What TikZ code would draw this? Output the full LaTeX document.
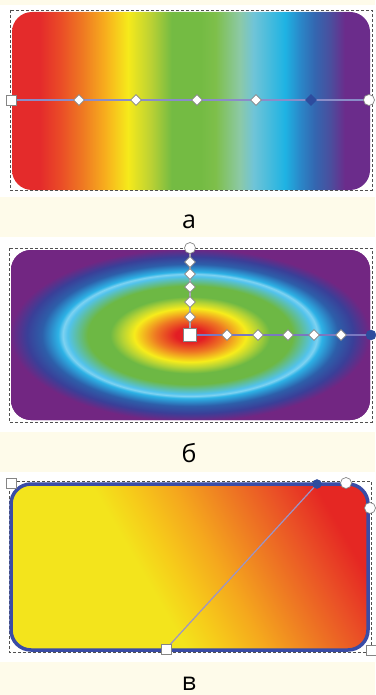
\documentclass[tikz,border=0pt]{standalone}
\usepackage{fontspec}
\setmainfont{Open Sans}
\usetikzlibrary{shapes.geometric}

\definecolor{cream}{HTML}{FEFBEA}
\definecolor{frameGray}{HTML}{505050}
\definecolor{handleGray}{HTML}{858585}
\definecolor{lineA}{HTML}{8A8CC8}
\definecolor{lineBv}{HTML}{A8A8B8}
\definecolor{lineBh}{HTML}{7A78C0}
\definecolor{lineC}{HTML}{9C94C8}
\definecolor{handleBlue}{HTML}{2D4C9E}
\definecolor{borderBlue}{HTML}{3A4CA6}

\definecolor{aRed}{HTML}{E42B2B}
\definecolor{aRedOr}{HTML}{EA4B27}
\definecolor{aOrange}{HTML}{EF7A22}
\definecolor{aAmber}{HTML}{F7AE1D}
\definecolor{aYellow}{HTML}{F6EA1B}
\definecolor{aYelGreen}{HTML}{BDD233}
\definecolor{aGreen}{HTML}{74BB43}
\definecolor{aGreenB}{HTML}{7EBF4A}
\definecolor{aGreenBlue}{HTML}{8CC9A6}
\definecolor{aLightBlue}{HTML}{70C4D7}
\definecolor{aCyan}{HTML}{1EB3E3}
\definecolor{aBlueA}{HTML}{2A88C9}
\definecolor{aBlueB}{HTML}{3466B0}
\definecolor{aSlate}{HTML}{4A4F9E}
\definecolor{aPurple}{HTML}{6B2C8B}

\definecolor{bRed}{HTML}{E31E24}
\definecolor{bOrange}{HTML}{EE7623}
\definecolor{bYellow}{HTML}{F7EC1B}
\definecolor{bYelGreen}{HTML}{B5D335}
\definecolor{bGreen}{HTML}{6DB844}
\definecolor{bCyanL}{HTML}{52C3EC}
\definecolor{bCyanW}{HTML}{7ED2F1}
\definecolor{bCyan}{HTML}{2DB2E6}
\definecolor{bBlue}{HTML}{2D5FAA}
\definecolor{bBlueDark}{HTML}{3A3F98}
\definecolor{bPurple}{HTML}{722682}

\definecolor{cYellow}{HTML}{F3E41C}
\definecolor{cYelOr}{HTML}{F6CC1A}
\definecolor{cAmber}{HTML}{F5A81D}
\definecolor{cOrange}{HTML}{EF7F22}
\definecolor{cOrRed}{HTML}{EA5126}
\definecolor{cRed}{HTML}{E52723}

\pgfdeclarehorizontalshading{rainbowA}{100bp}{%
  color(0bp)=(aRed); color(25bp)=(aRed); color(28.9bp)=(aRed);
  color(31.7bp)=(aRedOr); color(34.9bp)=(aOrange); color(38bp)=(aAmber);
  color(41.2bp)=(aYellow); color(44.3bp)=(aYelGreen); color(47.3bp)=(aGreen);
  color(51.3bp)=(aGreen); color(53.4bp)=(aGreenB); color(56.8bp)=(aGreenBlue);
  color(58.7bp)=(aLightBlue); color(63.1bp)=(aCyan); color(65.2bp)=(aBlueA);
  color(67.3bp)=(aBlueB); color(69.4bp)=(aSlate); color(71.5bp)=(aPurple);
  color(100bp)=(aPurple)}

\pgfdeclareradialshading{ringsB}{\pgfpointorigin}{%
  color(0bp)=(bRed); color(1.8bp)=(bRed); color(4.3bp)=(bOrange);
  color(7bp)=(bYellow); color(8.5bp)=(bYelGreen); color(10bp)=(bGreen);
  color(12.8bp)=(bGreen); color(15.3bp)=(bCyanL); color(15.9bp)=(bCyanW);
  color(16.5bp)=(bCyan); color(18.5bp)=(bBlue); color(20.4bp)=(bBlueDark);
  color(22.5bp)=(bPurple); color(50bp)=(bPurple)}

\pgfdeclarehorizontalshading{warmC}{100bp}{%
  color(0bp)=(cYellow); color(44.4bp)=(cYellow); color(48.1bp)=(cYelOr);
  color(53.1bp)=(cAmber); color(58.1bp)=(cOrange); color(63.75bp)=(cOrRed);
  color(68.75bp)=(cRed); color(100bp)=(cRed)}

\begin{document}
\begin{tikzpicture}[x=1bp,y=-1bp,
  frame/.style={draw=frameGray, line width=0.8bp, dash pattern=on 3bp off 2bp},
  sqhandle/.style={rectangle, draw=handleGray, fill=white, line width=0.7bp, minimum size=10bp, inner sep=0pt},
  bigsq/.style={sqhandle, minimum size=13bp},
  dmhandle/.style={diamond, draw=handleGray, fill=white, line width=0.7bp, minimum width=11bp, minimum height=11bp, inner sep=0pt},
  dmblue/.style={dmhandle, fill=handleBlue, draw=handleBlue},
  rhandle/.style={circle, draw=handleGray, fill=white, line width=0.7bp, minimum size=11bp, inner sep=0pt},
  bluedot/.style={circle, fill=handleBlue, draw=handleBlue, minimum size=10bp, inner sep=0pt},
  panellabel/.style={font=\fontsize{25bp}{30bp}\selectfont, text=black, anchor=base, inner sep=0pt}
]
\fill[cream] (0,0) rectangle (375,695);
\useasboundingbox (0,0) rectangle (375,695);

% ---------- panel a ----------
\fill[white] (0,5) rectangle (375,197);
\shade[shading=rainbowA, rounded corners=20bp] (12,12) rectangle (370,190);
\draw[frame] (10,10) rectangle (372,190);
\coordinate (aL) at (11,100);
\coordinate (aR) at (369,100);
\draw[lineA, line width=1.4bp] (aL) -- (aR);
\node[sqhandle] (aSq) at (aL) {};
\node[dmhandle] (aD1) at (79,100) {};
\node[dmhandle] (aD2) at (136,100) {};
\node[dmhandle] (aD3) at (197,100) {};
\node[dmhandle] (aD4) at (256,100) {};
\node[dmblue] (aD5) at (311,100) {};
\node[rhandle] (aEnd) at (aR) {};
\node[panellabel] (labA) at (189,228) {а};

% ---------- panel b ----------
\fill[white] (0,237) rectangle (375,432);
\fill[bPurple, rounded corners=20bp] (11,250) rectangle (370,420);
\begin{scope}
  \clip[rounded corners=20bp] (11,250) rectangle (370,420);
  \shade[shading=ringsB] (-10,239) rectangle (390,431);
\end{scope}
\draw[frame] (9,248) rectangle (372,422);
\coordinate (bC) at (190,335);
\coordinate (bTop) at (190,248);
\coordinate (bRight) at (371,335);
\draw[lineBv, line width=1.4bp] (bC) -- (bTop);
\draw[lineBh, line width=1.4bp] (bC) -- (bRight);
\node[dmhandle] (bV1) at (190,262) {};
\node[dmhandle] (bV2) at (190,274) {};
\node[dmhandle] (bV3) at (190,287) {};
\node[dmhandle] (bV4) at (190,302) {};
\node[dmhandle] (bV5) at (190,317) {};
\node[dmhandle] (bH1) at (227,335) {};
\node[dmhandle] (bH2) at (258,335) {};
\node[dmhandle] (bH3) at (288,335) {};
\node[dmhandle] (bH4) at (314,335) {};
\node[dmhandle] (bH5) at (341,335) {};
\node[bigsq] (bSq) at (bC) {};
\node[rhandle] (bTopH) at (bTop) {};
\node[bluedot] (bRightH) at (bRight) {};
\node[panellabel] (labB) at (189,462) {б};

% ---------- panel c ----------
\fill[white] (0,472) rectangle (375,662);
\begin{scope}
  \clip[rounded corners=20bp] (11,484) rectangle (368,650);
  \shade[shading=warmC, shading angle=30] (-10,366) rectangle (390,766);
\end{scope}
\draw[frame] (9,481) rectangle (371,652);
\draw[borderBlue, line width=3.5bp, rounded corners=20bp] (11,484) rectangle (368,650);
\coordinate (cS) at (166,649);
\coordinate (cE) at (317,484);
\draw[lineC, line width=1.2bp] (cS) -- (cE);
\node[sqhandle] (cTL) at (11,483) {};
\node[sqhandle] (cBR) at (371,650) {};
\node[sqhandle] (cSq) at (cS) {};
\node[bluedot, minimum size=9bp] (cDot) at (cE) {};
\node[rhandle] (cR1) at (346,483) {};
\node[rhandle] (cR2) at (370,508) {};
\node[panellabel] (labC) at (189,690) {в};
\end{tikzpicture}
\end{document}
